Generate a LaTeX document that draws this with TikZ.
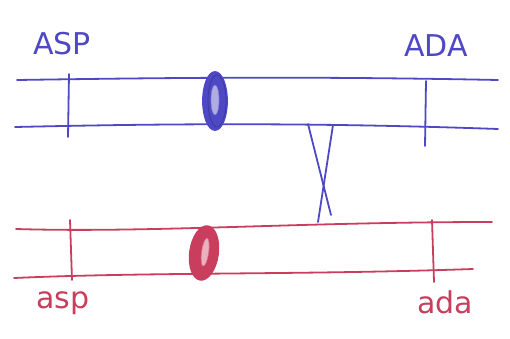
\documentclass[tikz,border=0pt]{standalone}
\usepackage{fontspec}
\setmainfont{DejaVu Sans}
\definecolor{penblue}{RGB}{78,72,196}
\definecolor{penred}{RGB}{200,62,92}
\tikzset{
  pen/.style={line width=1.8pt, line cap=round, line join=round},
  bluepen/.style={pen, draw=penblue},
  redpen/.style={pen, draw=penred},
  lbl/.style={inner sep=0pt, font=\fontsize{30}{32}\selectfont}
}
\begin{document}
\begin{tikzpicture}[x=1pt,y=-1pt]
\useasboundingbox (0,0) rectangle (510,339);
% blue chromosome
\draw[bluepen] (17,80) .. controls (150,78) and (300,76) .. (498,80);
\draw[bluepen] (15,127) .. controls (150,124) and (300,122) .. (498,129);
\draw[bluepen] (69,74) -- (68,137);
\draw[bluepen] (426,81) -- (425,146);
\draw[bluepen, fill=penblue] (215,101) ellipse [x radius=12, y radius=29];
\draw[draw=penblue!70, fill=penblue!45, line width=0.6pt] (215,100) ellipse [x radius=4, y radius=15];
\draw[draw=penblue!80!black, line width=0.8pt] (217,101) ellipse [x radius=9, y radius=26];
% red chromosome
\draw[redpen] (16,229) .. controls (150,233) and (300,222) .. (492,222);
\draw[redpen] (14,278) .. controls (150,272) and (300,275) .. (473,269);
\draw[redpen] (70,220) -- (72,280);
\draw[redpen] (432,220) -- (434,282);
\draw[redpen, fill=penred, rotate around={-8:(204,253)}] (204,253) ellipse [x radius=14, y radius=27];
\draw[draw=penred!70, fill=penred!40, line width=0.6pt, rotate around={-8:(204,253)}] (205,252) ellipse [x radius=3.5, y radius=14];
% crossover
\coordinate (c1a) at (308,124);
\coordinate (c1b) at (331,215);
\coordinate (c2a) at (333,125);
\coordinate (c2b) at (318,222);
\draw[bluepen] (c1a) -- (c1b);
\draw[bluepen] (c2a) -- (c2b);
% labels
\node[lbl, text=penblue] (ASP) at (62,44) {ASP};
\node[lbl, text=penblue] (ADA) at (436,46) {ADA};
\node[lbl, text=penred] (asp) at (63,303) {asp};
\node[lbl, text=penred] (ada) at (445,302) {ada};
\end{tikzpicture}
\end{document}
